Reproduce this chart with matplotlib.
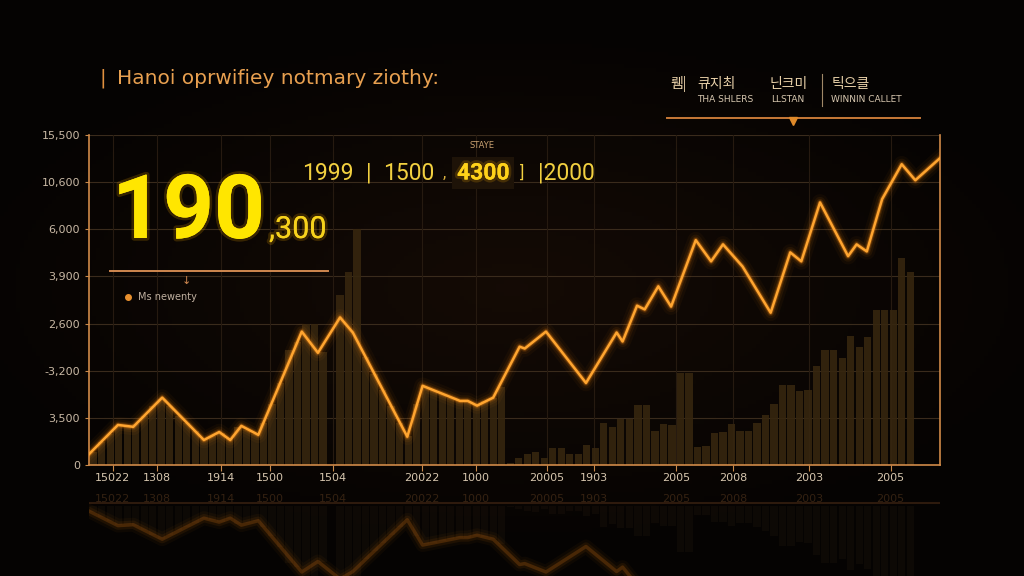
import numpy as np
import matplotlib
matplotlib.use('Agg')
import matplotlib.pyplot as plt
import matplotlib.patheffects as pe

plt.rcParams['font.family'] = ['DejaVu Sans', 'Noto Sans CJK KR']

# line series (x in chart units 0-100, y in grid steps)
line_x = [0, 3.4, 5.2, 8.6, 13.5, 15.3, 16.6, 17.9, 19.9, 25.0, 26.9, 29.5, 31.0,
          37.4, 39.2, 43.6, 44.5, 45.6, 47.5, 50.6, 51.2, 53.7, 58.4, 62.0, 62.7,
          64.4, 65.3, 66.9, 68.4, 71.3, 73.1, 74.5, 76.8, 80.1, 82.4, 83.7, 85.9,
          89.2, 90.2, 91.4, 93.2, 95.5, 97.1, 100]
line_y = [0.23, 0.85, 0.81, 1.43, 0.53, 0.70, 0.53, 0.83, 0.64, 2.83, 2.38, 3.13, 2.81,
          0.60, 1.68, 1.36, 1.36, 1.26, 1.43, 2.51, 2.47, 2.83, 1.74, 2.81, 2.62,
          3.38, 3.30, 3.79, 3.36, 4.77, 4.32, 4.68, 4.21, 3.23, 4.51, 4.32, 5.57,
          4.43, 4.68, 4.53, 5.64, 6.38, 6.04, 6.51]

# background bars, one per chart unit
bar_h = [0.28, 0.48, 0.66, 0.83, 0.80, 0.86, 1.05, 1.25, 1.40, 1.25,
         1.05, 0.90, 0.72, 0.55, 0.62, 0.68, 0.55, 0.80, 0.75, 0.66,
         0.90, 1.30, 1.75, 2.45, 2.60, 3.00, 3.00, 2.40, 0.00, 3.60,
         4.10, 5.00, 2.29, 1.94, 1.60, 1.25, 0.90, 0.62, 1.30, 1.65,
         1.60, 1.50, 1.42, 1.37, 1.36, 1.28, 1.35, 1.42, 1.65, 0.05,
         0.15, 0.23, 0.27, 0.15, 0.36, 0.36, 0.23, 0.23, 0.42, 0.36,
         0.90, 0.80, 0.97, 0.97, 1.28, 1.28, 0.73, 0.87, 0.85, 1.96,
         1.96, 0.38, 0.40, 0.68, 0.70, 0.87, 0.72, 0.72, 0.90, 1.06,
         1.30, 1.70, 1.70, 1.57, 1.60, 2.10, 2.45, 2.45, 2.27, 2.74,
         2.50, 2.72, 3.28, 3.28, 3.28, 4.40, 4.10]

ytick_labels = ['0', '3,500', '-3,200', '2,600', '3,900', '6,000', '10,600', '15,500']
xtick_pos = [2.8, 8.0, 15.5, 21.3, 28.7, 39.1, 45.5, 53.8, 59.3, 69.0, 75.7, 84.6, 94.2]
xtick_labels = ['15022', '1308', '1914', '1500', '1504', '20022', '1000',
                '20005', '1903', '2005', '2008', '2003', '2005']

fig = plt.figure(figsize=(10.24, 5.76), dpi=100)
fig.patch.set_facecolor('#070403')

# dark vignette background
bg = fig.add_axes([0, 0, 1, 1], zorder=-5)
gx, gy = np.meshgrid(np.linspace(-1, 1, 256), np.linspace(-1, 1, 144))
r = np.sqrt((gx * 0.9) ** 2 + (gy * 1.1) ** 2)
glow = np.clip(1 - r, 0, 1)
img = np.zeros((144, 256, 3))
img[..., 0] = 0.02 + 0.06 * glow
img[..., 1] = 0.012 + 0.03 * glow
img[..., 2] = 0.008 + 0.012 * glow
bg.imshow(img, aspect='auto', extent=[0, 1, 0, 1])
bg.axis('off')

ax = fig.add_axes([89 / 1024, 111 / 576, 851 / 1024, 330 / 576])
ax.set_facecolor('none')
ax.set_xlim(0, 100)
ax.set_ylim(0, 7)

bar_x = np.arange(len(bar_h)) + 0.5
ax.bar(bar_x, bar_h, width=0.85, color='#36260f', alpha=0.9, zorder=1)

for yy in range(1, 8):
    ax.axhline(yy, color='#3a2b1c', lw=0.8, zorder=0)
for xx in xtick_pos:
    ax.axvline(xx, color='#261a10', lw=0.8, zorder=0)

# glowing line
for lw, a in [(12, 0.04), (8, 0.07), (5, 0.12), (3.2, 0.3)]:
    ax.plot(line_x, line_y, color='#ff8c10', lw=lw, alpha=a, zorder=3)
ax.plot(line_x, line_y, color='#ffa530', lw=1.8, zorder=4)

ax.set_yticks(range(8))
ax.set_yticklabels(ytick_labels)
ax.set_xticks(xtick_pos)
ax.set_xticklabels(xtick_labels)
ax.tick_params(axis='y', colors='#c9b9a5', labelsize=8, length=3, color='#c8884a')
ax.tick_params(axis='x', colors='#d6c6ae', labelsize=8, length=4, color='#c8884a', pad=2)
for s in ['left', 'bottom', 'right']:
    ax.spines[s].set_color('#d08a48')
    ax.spines[s].set_linewidth(1.2)
ax.spines['top'].set_visible(False)

# faint reflection under the chart
rax = fig.add_axes([89 / 1024, 0, 851 / 1024, 82 / 576])
rax.set_facecolor('none')
rax.set_xlim(0, 100)
rax.set_ylim(3.0, -0.5)
rax.bar(bar_x, bar_h, width=0.85, color='#22170c', alpha=0.3)
for lw, a in [(10, 0.04), (6, 0.07)]:
    rax.plot(line_x, line_y, color='#ff8c10', lw=lw, alpha=a)
rax.plot(line_x, line_y, color='#a85a10', lw=2.5, alpha=0.3)
rax.axhline(-0.1, color='#8a5028', lw=1.5, alpha=0.3)
for xx, lab in zip(xtick_pos, xtick_labels):
    rax.text(xx, -0.3, lab, color='#5a3a1e', fontsize=8, ha='center', va='center', alpha=0.55)
rax.axis('off')

glow_y = [pe.withStroke(linewidth=4, foreground='#ffb000', alpha=0.18), pe.Normal()]
rob = ['Roboto', 'DejaVu Sans']

# title
fig.text(100 / 1024, 1 - 78 / 576, '|', color='#e0903e', fontsize=14.5, va='center')
fig.text(117 / 1024, 1 - 78 / 576, 'Hanoi oprwifiey notmary ziothy:', color='#e8a050',
         fontsize=14.5, va='center')

# big number
fig.text(112 / 1024, 1 - 238 / 576, '190', color='#ffe600', fontsize=64, fontweight='bold',
         family=rob, va='baseline', path_effects=glow_y)
fig.text(269 / 1024, 1 - 238 / 576, ',300', color='#f7d21c', fontsize=22,
         family=rob, va='baseline', path_effects=glow_y)

# row of figures
row_y = 1 - 173 / 576
fig.text(302 / 1024, row_y, '1999', color='#f2d040', fontsize=16.5, family=rob, va='center')
fig.text(366 / 1024, row_y, '|', color='#f2d040', fontsize=16.5, family=rob, va='center')
fig.text(383 / 1024, row_y, '1500', color='#f2d040', fontsize=16.5, family=rob, va='center')
fig.text(443 / 1024, row_y, ',', color='#d8b040', fontsize=12, family=rob, va='center')
fig.text(457 / 1024, row_y, '4300', color='#ffd21a', fontsize=16.5, fontweight='bold',
         family=rob, va='center', path_effects=glow_y,
         bbox=dict(boxstyle='square,pad=0.2', fc='#1e1308', ec='none'))
fig.text(520 / 1024, row_y, ']', color='#f2d040', fontsize=12, family=rob, va='center')
fig.text(538 / 1024, row_y, '|2000', color='#f2d040', fontsize=16.5, family=rob, va='center')
fig.text(482 / 1024, 1 - 145 / 576, 'STAYE', color='#c8a070', fontsize=6, ha='center', va='center')

# annotation under big number
fig.add_artist(plt.Line2D([110 / 1024, 328 / 1024], [1 - 271 / 576, 1 - 271 / 576],
                          color='#d08850', lw=1.4))
fig.text(186 / 1024, 1 - 281 / 576, '↓', color='#d08850', fontsize=8, ha='center', va='center')
fig.add_artist(plt.Line2D([128 / 1024], [1 - 297 / 576], marker='o', ms=4, color='#e8902e', lw=0))
fig.text(138 / 1024, 1 - 297 / 576, 'Ms newenty', color='#c0b0a0', fontsize=7, va='center')

# top right legend
kr = ['Noto Sans CJK KR', 'DejaVu Sans']
fig.text(670 / 1024, 1 - 84 / 576, '뤰|', color='#e8d0a8', fontsize=10, family=kr, va='center')
fig.text(697 / 1024, 1 - 84 / 576, '큐지최', color='#e8d0a8', fontsize=10, family=kr, va='center')
fig.text(770 / 1024, 1 - 84 / 576, '닌크미', color='#e8d0a8', fontsize=10, family=kr, va='center')
fig.text(832 / 1024, 1 - 84 / 576, '틱으클', color='#e8d0a8', fontsize=10, family=kr, va='center')
fig.text(697 / 1024, 1 - 100 / 576, 'THA SHLERS', color='#d8c8b0', fontsize=6.5, va='center')
fig.text(771 / 1024, 1 - 100 / 576, 'LLSTAN', color='#d8c8b0', fontsize=6.5, va='center')
fig.text(831 / 1024, 1 - 100 / 576, 'WINNIN CALLET', color='#d8c8b0', fontsize=6.5, va='center')
fig.add_artist(plt.Line2D([822 / 1024, 822 / 1024], [1 - 74 / 576, 1 - 106 / 576],
                          color='#a08868', lw=0.8))
fig.add_artist(plt.Line2D([667 / 1024, 920 / 1024], [1 - 118 / 576, 1 - 118 / 576],
                          color='#c87a38', lw=1.4))
fig.add_artist(plt.Line2D([793 / 1024], [1 - 121 / 576], marker='v', ms=6, color='#e08a2a', lw=0))

fig.savefig('out.png', dpi=100, facecolor=fig.get_facecolor())
